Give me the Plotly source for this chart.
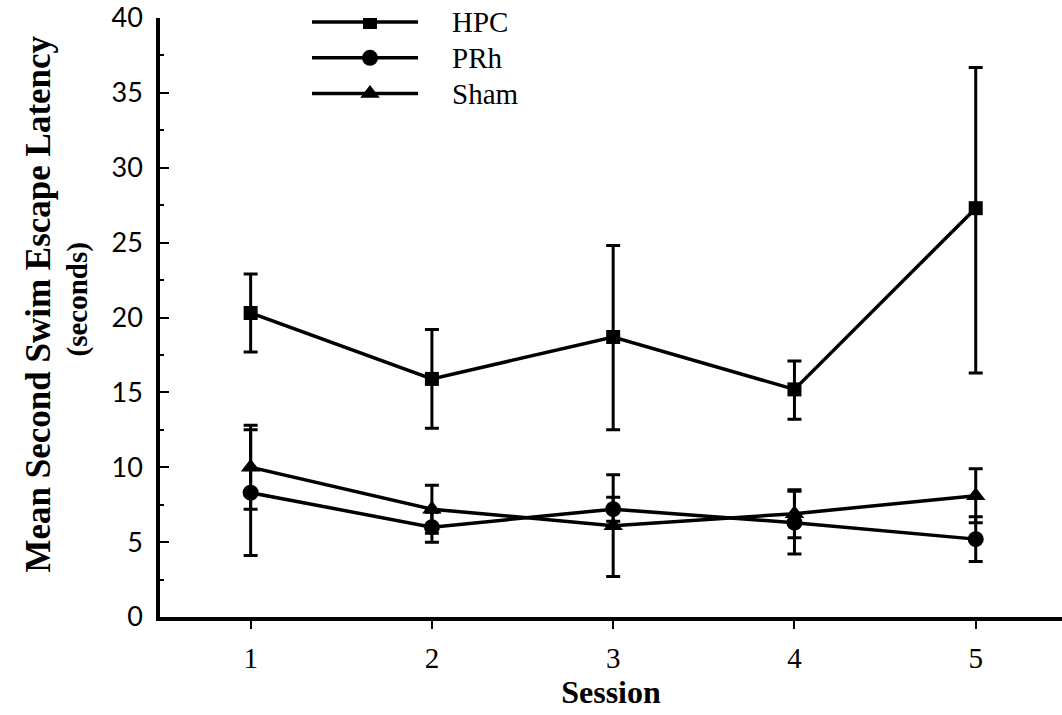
import plotly.graph_objects as go

sessions = [1, 2, 3, 4, 5]
tick_labels = ["1", "2", "3", "4", "5"]

hpc_mean = [20.3, 15.9, 18.7, 15.2, 27.3]
hpc_err_plus = [2.6, 3.3, 6.1, 1.9, 9.4]
hpc_err_minus = [2.6, 3.3, 6.2, 2.0, 11.0]

prh_mean = [8.3, 6.0, 7.2, 6.3, 5.2]
prh_err = [4.2, 1.0, 0.8, 2.1, 1.5]

sham_mean = [10.0, 7.2, 6.1, 6.9, 8.1]
sham_err = [2.8, 1.6, 3.4, 1.6, 1.8]

group_names = ["HPC", "PRh", "Sham"]
group_symbols = ["square", "circle", "triangle-up"]
group_sizes = [14, 16, 17]

SERIF = "Liberation Serif"
fig = go.Figure()

series = [
    (hpc_mean, hpc_err_plus, hpc_err_minus),
    (prh_mean, prh_err, prh_err),
    (sham_mean, sham_err, sham_err),
]
for (m, ep, em), name, sym, sz in zip(series, group_names, group_symbols, group_sizes):
    fig.add_trace(go.Scatter(
        x=sessions, y=m, mode="lines+markers", name=name,
        line=dict(color="black", width=3.5),
        marker=dict(symbol=sym, size=sz, color="black"),
        error_y=dict(type="data", symmetric=False, array=ep, arrayminus=em,
                     color="black", thickness=3, width=7),
        showlegend=False,
    ))

# custom legend drawn on an overlay pixel axis
leg_rows = [19, 55, 91]
leg_x0, leg_x1, leg_mx, leg_tx = 312, 418, 370, 450
for name, sym, sz, yy in zip(group_names, group_symbols, group_sizes, leg_rows):
    fig.add_trace(go.Scatter(
        x=[leg_x0, leg_mx, leg_x1], y=[yy, yy, yy], xaxis="x2", yaxis="y2",
        mode="lines", line=dict(color="black", width=3.5), showlegend=False,
        hoverinfo="skip"))
    fig.add_trace(go.Scatter(
        x=[leg_mx], y=[yy], xaxis="x2", yaxis="y2", mode="markers",
        marker=dict(symbol=sym, size=sz, color="black"), showlegend=False,
        hoverinfo="skip"))
    fig.add_annotation(x=leg_tx, y=yy, xref="x2", yref="y2", text=name,
                       showarrow=False, xanchor="left", yanchor="middle",
                       font=dict(family=SERIF, size=29, color="black"))

fig.update_layout(
    width=1062, height=715,
    margin=dict(l=160, r=0, t=15, b=98),
    paper_bgcolor="white", plot_bgcolor="white",
    xaxis=dict(
        range=[0.5, 5.476], tickvals=sessions, ticktext=tick_labels,
        showline=True, linecolor="black", linewidth=3.5,
        ticks="outside", ticklen=8, tickwidth=2, tickcolor="black",
        showgrid=False, zeroline=False,
        tickfont=dict(family=SERIF, size=29, color="black"),
        ticklabelstandoff=4,
        title=dict(text="<b>Session</b>", font=dict(family=SERIF, size=32, color="black"),
                   standoff=6),
    ),
    yaxis=dict(
        range=[0, 40.0], tickvals=[0, 5, 10, 15, 20, 25, 30, 35, 40],
        showline=True, linecolor="black", linewidth=3.5,
        ticks="inside", ticklen=9, tickwidth=2, tickcolor="black",
        minor=dict(tickvals=[2.5, 7.5, 12.5, 17.5, 22.5, 27.5, 32.5, 37.5],
                   ticks="inside", ticklen=4, tickwidth=2, tickcolor="black"),
        showgrid=False, zeroline=False,
        tickfont=dict(family="Lato", size=27, color="black"),
        ticklabelstandoff=8, ticklabeloverflow="allow",
    ),
    xaxis2=dict(range=[160, 1062], overlaying="x", visible=False, fixedrange=True),
    yaxis2=dict(range=[617, 15], overlaying="y", visible=False, fixedrange=True),
)

fig.add_annotation(x=-0.135, y=0.522, xref="paper", yref="paper", xanchor="center", yanchor="middle",
                   text="<b>Mean Second Swim Escape Latency</b>", textangle=-90, showarrow=False,
                   font=dict(family=SERIF, size=35, color="black"))
fig.add_annotation(x=-0.091, y=0.53, xref="paper", yref="paper", xanchor="center", yanchor="middle",
                   text="<b>(seconds)</b>", textangle=-90, showarrow=False,
                   font=dict(family=SERIF, size=29, color="black"))

fig.write_html("out.html")
